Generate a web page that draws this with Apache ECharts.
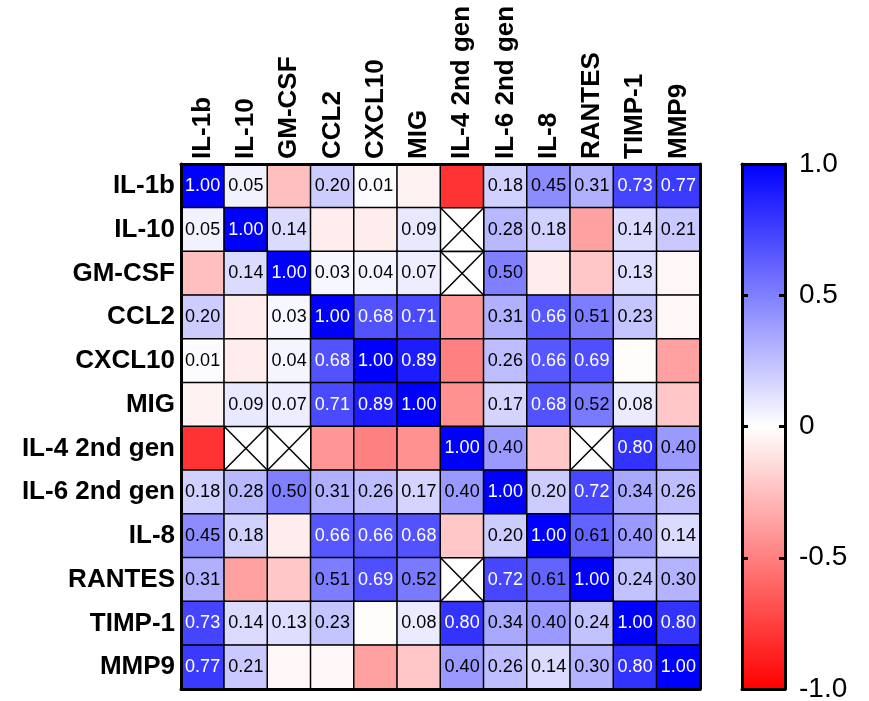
<!DOCTYPE html>
<html><head><meta charset="utf-8">
<script src="https://cdn.jsdelivr.net/npm/echarts@6.0.0/dist/echarts.min.js"></script>
<style>html,body{margin:0;padding:0;background:#fff}#c{width:869px;height:701px}</style>
</head><body><div id="c"></div>
<script>
// ---- data ----
const markers = ['IL-1b','IL-10','GM-CSF','CCL2','CXCL10','MIG','IL-4 2nd gen','IL-6 2nd gen','IL-8','RANTES','TIMP-1','MMP9'];
// correlation matrix, rows in the same order as markers; null = not computed (crossed cell)
const corr = [
 [ 1.00, 0.05,-0.25, 0.20, 0.01,-0.05,-0.80, 0.18, 0.45, 0.31, 0.73, 0.77],
 [ 0.05, 1.00, 0.14,-0.07,-0.07, 0.09, null, 0.28, 0.18,-0.37, 0.14, 0.21],
 [-0.25, 0.14, 1.00, 0.03, 0.04, 0.07, null, 0.50,-0.07,-0.22, 0.13,-0.03],
 [ 0.20,-0.07, 0.03, 1.00, 0.68, 0.71,-0.41, 0.31, 0.66, 0.51, 0.23,-0.03],
 [ 0.01,-0.07, 0.04, 0.68, 1.00, 0.89,-0.50, 0.26, 0.66, 0.69,-0.01,-0.37],
 [-0.05, 0.09, 0.07, 0.71, 0.89, 1.00,-0.43, 0.17, 0.68, 0.52, 0.08,-0.22],
 [-0.80, null, null,-0.41,-0.50,-0.43, 1.00, 0.40,-0.22, null, 0.80, 0.40],
 [ 0.18, 0.28, 0.50, 0.31, 0.26, 0.17, 0.40, 1.00, 0.20, 0.72, 0.34, 0.26],
 [ 0.45, 0.18,-0.07, 0.66, 0.66, 0.68,-0.22, 0.20, 1.00, 0.61, 0.40, 0.14],
 [ 0.31,-0.37,-0.22, 0.51, 0.69, 0.52, null, 0.72, 0.61, 1.00, 0.24, 0.30],
 [ 0.73, 0.14, 0.13, 0.23,-0.01, 0.08, 0.80, 0.34, 0.40, 0.24, 1.00, 0.80],
 [ 0.77, 0.21,-0.03,-0.03,-0.37,-0.22, 0.40, 0.26, 0.14, 0.30, 0.80, 1.00]
];
const colorbarMin = -1, colorbarMax = 1, colorbarStep = 0.5;
const scaleColors = ['#ff0000', '#ffffff', '#0000ff'];

// ---- build series data ----
const FONT = 'Liberation Sans';
const cellData = [], crossData = [];
corr.forEach((row, r) => row.forEach((v, c) => {
  if (v === null) { crossData.push([c, r]); return; }
  cellData.push({ value: [c, r, v], label: { color: v > 0.65 ? '#ffffff' : '#000000' } });
}));

const lineAxis = (extra) => Object.assign({
  axisLine: { show: true, onZero: false, lineStyle: { color: '#000', width: 3 } },
  axisTick: { show: false }, axisLabel: { show: false }, splitLine: { show: false }, z: 10
}, extra);

const chart = echarts.init(document.getElementById('c'), null, { renderer: 'canvas' });
chart.setOption({
  backgroundColor: '#fff',
  animation: false,
  grid: [
    { left: 181, top: 164, width: 519, height: 525, outerBoundsMode: 'none', containLabel: false },
    { left: 742, top: 164, width: 43, height: 525, outerBoundsMode: 'none', containLabel: false }
  ],
  xAxis: [
    lineAxis({ type: 'category', gridIndex: 0, position: 'top', data: markers,
      axisLabel: { show: true, interval: 0, rotate: -90, margin: 5, color: '#000',
        fontFamily: FONT, fontWeight: 'bold', fontSize: 26 } }),
    lineAxis({ type: 'category', gridIndex: 0, position: 'bottom', data: markers }),
    lineAxis({ type: 'value', gridIndex: 1, position: 'top', min: 0, max: 1 }),
    lineAxis({ type: 'value', gridIndex: 1, position: 'bottom', min: 0, max: 1 })
  ],
  yAxis: [
    lineAxis({ type: 'category', gridIndex: 0, position: 'left', inverse: true, data: markers,
      axisLabel: { show: true, interval: 0, margin: 6, color: '#000',
        fontFamily: FONT, fontWeight: 'bold', fontSize: 26 } }),
    lineAxis({ type: 'category', gridIndex: 0, position: 'right', inverse: true, data: markers }),
    lineAxis({ type: 'value', gridIndex: 1, position: 'left', min: colorbarMin, max: colorbarMax, interval: colorbarStep,
      axisTick: { show: true, inside: true, length: 6, lineStyle: { color: '#000', width: 3 } } }),
    lineAxis({ type: 'value', gridIndex: 1, position: 'right', min: colorbarMin, max: colorbarMax, interval: colorbarStep,
      axisTick: { show: true, inside: true, length: 6, lineStyle: { color: '#000', width: 3 } },
      axisLabel: { show: true, margin: 14, color: '#000', fontFamily: FONT, fontSize: 28,
        formatter: v => v === 0 ? '0' : v.toFixed(1) } })
  ],
  visualMap: {
    type: 'continuous', show: false, min: colorbarMin, max: colorbarMax,
    dimension: 2, seriesIndex: 0, inRange: { color: scaleColors }
  },
  series: [
    {
      type: 'heatmap', xAxisIndex: 0, yAxisIndex: 0, data: cellData, z: 2,
      itemStyle: { borderColor: '#000', borderWidth: 1.5 },
      label: { show: true, fontFamily: FONT, fontSize: 18,
        formatter: p => p.value[2] >= 0 ? p.value[2].toFixed(2) : '' },
      emphasis: { disabled: true }
    },
    {
      type: 'custom', xAxisIndex: 0, yAxisIndex: 0, data: crossData, z: 3, silent: true,
      renderItem: (params, api) => {
        const p = api.coord([api.value(0), api.value(1)]);
        const s = api.size([1, 1]);
        const x0 = p[0] - s[0] / 2, y0 = p[1] - s[1] / 2;
        const st = { stroke: '#000', lineWidth: 1.5 };
        return { type: 'group', children: [
          { type: 'rect', shape: { x: x0, y: y0, width: s[0], height: s[1] }, style: { fill: '#fff', stroke: '#000', lineWidth: 1.5 } },
          { type: 'line', shape: { x1: x0, y1: y0, x2: x0 + s[0], y2: y0 + s[1] }, style: st },
          { type: 'line', shape: { x1: x0 + s[0], y1: y0, x2: x0, y2: y0 + s[1] }, style: st }
        ] };
      }
    },
    {
      type: 'custom', xAxisIndex: 2, yAxisIndex: 2, data: [[0, colorbarMin]], z: 2, silent: true,
      renderItem: (params, api) => {
        const tl = api.coord([0, colorbarMax]);
        const br = api.coord([1, colorbarMin]);
        return { type: 'rect', shape: { x: tl[0], y: tl[1], width: br[0] - tl[0], height: br[1] - tl[1] },
          style: { fill: new echarts.graphic.LinearGradient(0, 0, 0, 1, [
            { offset: 0, color: scaleColors[2] }, { offset: 0.5, color: scaleColors[1] }, { offset: 1, color: scaleColors[0] }]) } };
      }
    }
  ]
});
</script></body></html>
